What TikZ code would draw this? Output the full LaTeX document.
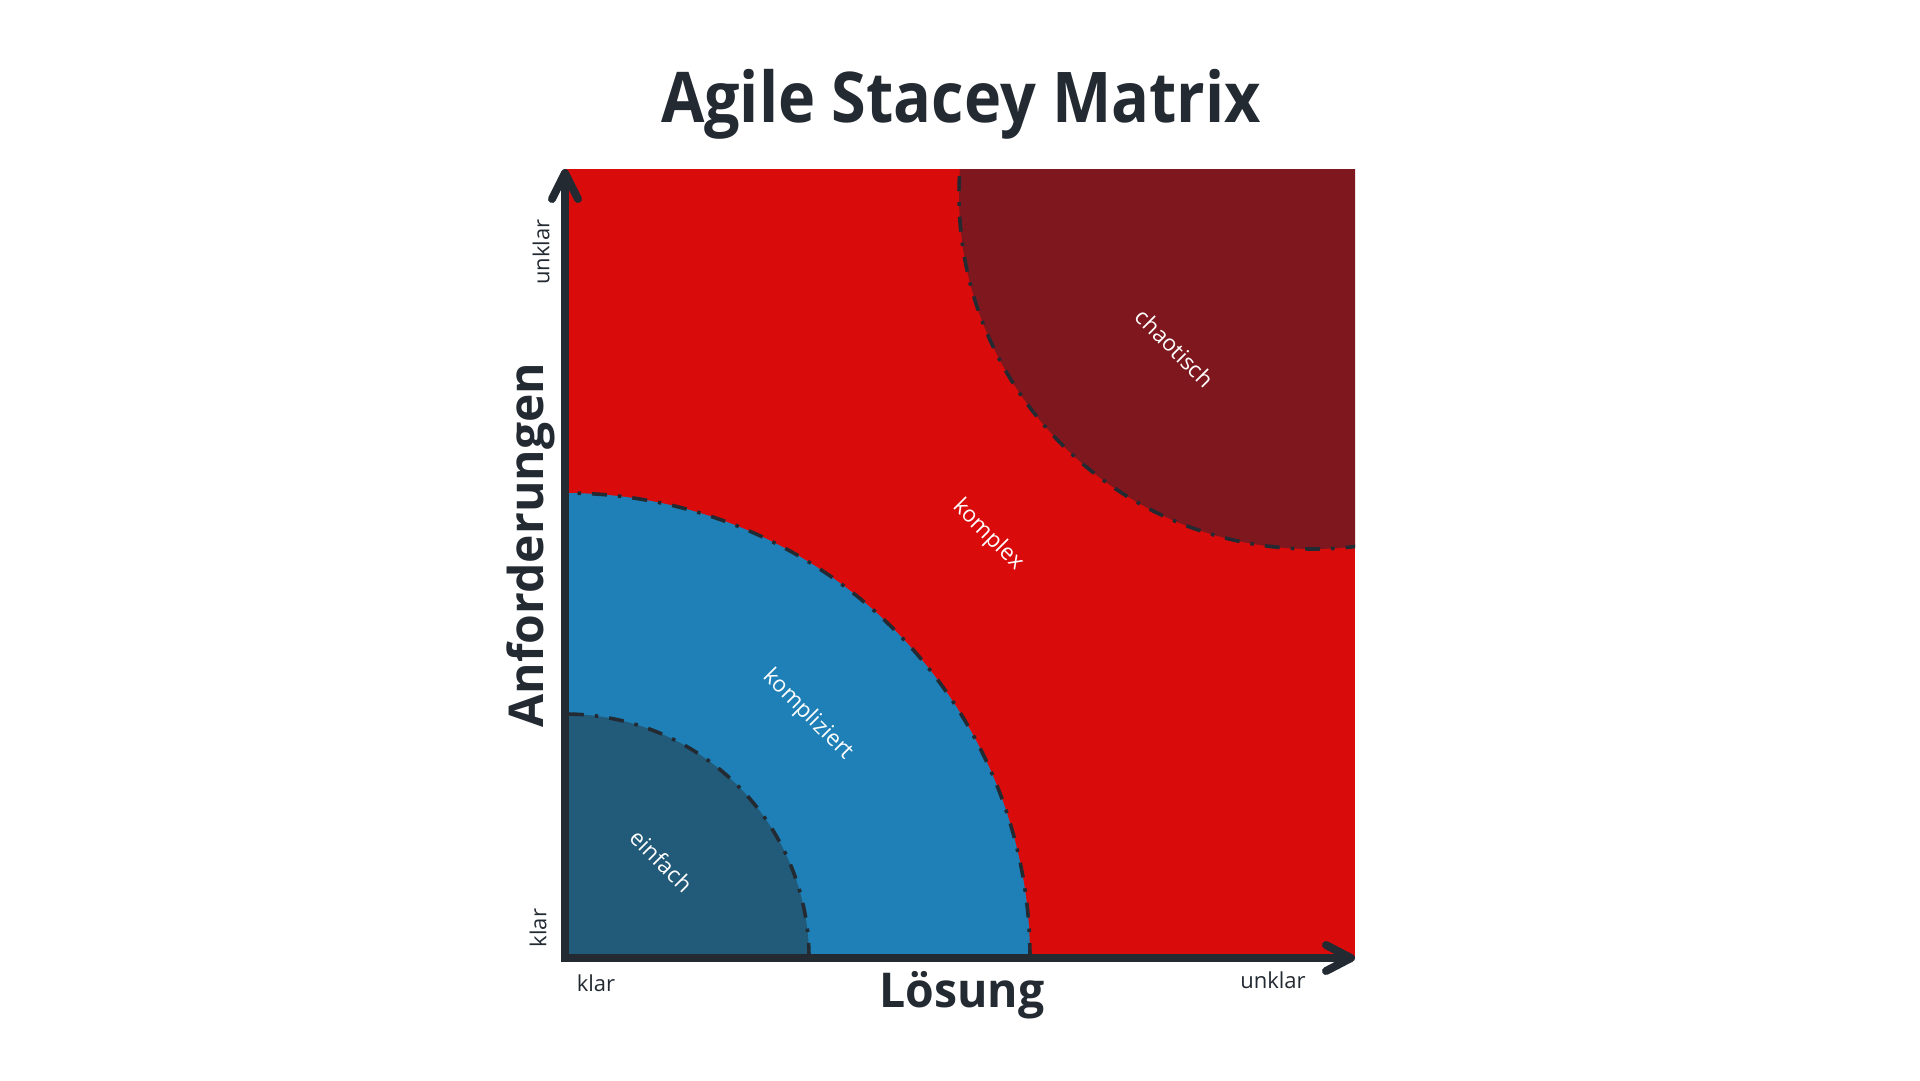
\documentclass[tikz,border=0pt]{standalone}
\usepackage{fontspec}
\usepackage{graphicx}
\setmainfont{Open Sans}
\usetikzlibrary{calc}
\definecolor{cred}{RGB}{218,11,11}
\definecolor{cdarkred}{RGB}{126,24,30}
\definecolor{cblue}{RGB}{30,128,182}
\definecolor{cdarkblue}{RGB}{34,90,121}
\definecolor{cdark}{RGB}{35,42,50}
\tikzset{
  axisline/.style={draw=cdark, line width=8pt},
  arcline/.style={draw=cdark, line width=3.6pt, dash pattern=on 15pt off 11pt on 3.5pt off 11pt},
  zonelabel/.style={text=white, font=\fontsize{22.5}{26}\selectfont, rotate=-45, inner sep=0pt},
  ticklabel/.style={text=cdark, font=\fontsize{22}{26}\selectfont, inner sep=0pt},
  axistitle/.style={text=cdark, font=\fontsize{48}{56}\selectfont\bfseries, inner sep=0pt},
}
\begin{document}
\begin{tikzpicture}[x=1pt, y=-1pt]
\useasboundingbox[fill=white] (0,0) rectangle (1920,1080);
% key coordinates
\coordinate (O) at (565,958);
\coordinate (TL) at (565,169);
\coordinate (BR) at (1355,958);
\coordinate (TR) at (1355,169);
\coordinate (C) at (1313,195);
% regions
\begin{scope}
\clip (TL) rectangle (BR);
\fill[cred] (TL) rectangle (BR);
\fill[cdarkred] (C) circle[radius=354pt];
\fill[cblue] (O) circle[radius=465pt];
\fill[cdarkblue] (O) circle[radius=244pt];
\draw[arcline] (C) circle[radius=354pt];
\draw[arcline] (O) circle[radius=465pt];
\draw[arcline] (O) circle[radius=244pt];
\end{scope}
% axes
\coordinate (Ytip) at (565,173);
\coordinate (Xtip) at (1351,958);
\draw[axisline, line join=miter] (Ytip) -- (O) -- (Xtip);
\draw[axisline, line cap=round, line join=round] (552,199) -- (Ytip) -- (578,199);
\draw[axisline, line cap=round, line join=round] (1326,945) -- (Xtip) -- (1326,971);
% title
\node[anchor=base, text=cdark, inner sep=0pt, font=\fontsize{70}{84}\selectfont\bfseries] (title) at (961,122) {\resizebox{600pt}{\height}{Agile Stacey Matrix}};
% axis titles
\node[axistitle, anchor=base] (xtitle) at (962,1007) {\resizebox{165pt}{\height}{Lösung}};
\node[axistitle, anchor=base, rotate=90] (ytitle) at (543,545) {Anforderungen};
% tick labels
\node[ticklabel] (xklar) at (596,983) {klar};
\node[ticklabel] (xunklar) at (1273,980) {unklar};
\node[ticklabel, rotate=90] (yklar) at (538,928) {klar};
\node[ticklabel, rotate=90] (yunklar) at (541,252) {unklar};
% zone labels
\node[zonelabel] (einfach) at (662,861) {einfach};
\node[zonelabel] (kompliziert) at (808,715) {kompliziert};
\node[zonelabel] (komplex) at (988,535) {komplex};
\node[zonelabel] (chaotisch) at (1175,348) {chaotisch};
\end{tikzpicture}
\end{document}
